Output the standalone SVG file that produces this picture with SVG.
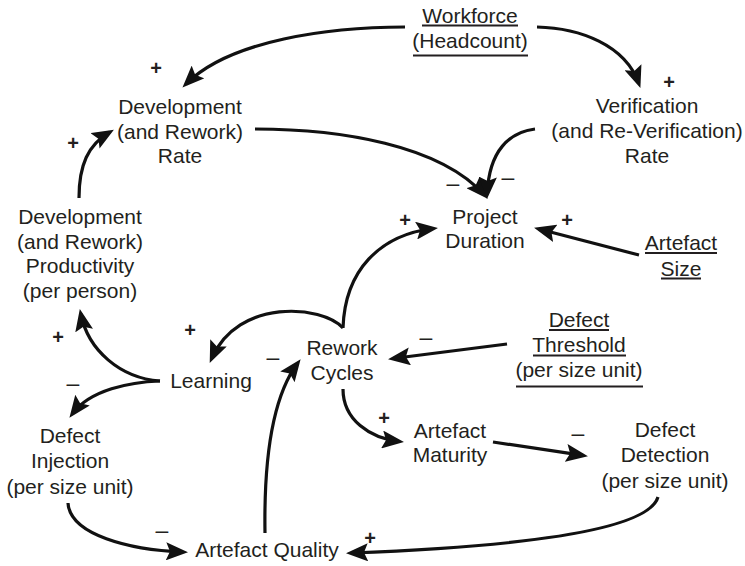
<svg xmlns="http://www.w3.org/2000/svg" width="745" height="566" viewBox="0 0 745 566">
<style>
.t{font-family:"Liberation Sans",Arial,sans-serif;font-size:21px;fill:#231f20;text-anchor:middle}
.s{font-family:"Liberation Sans",Arial,sans-serif;font-size:20px;font-weight:bold;fill:#231f20;text-anchor:middle;dominant-baseline:central}
.m{font-family:"Liberation Sans",Arial,sans-serif;font-size:23px;fill:#231f20;text-anchor:middle;dominant-baseline:central}
.u{stroke:#231f20;stroke-width:2}
.c{fill:none;stroke:#111;stroke-width:3.2;marker-end:url(#ah)}
</style>
<defs>
<marker id="ah" markerUnits="userSpaceOnUse" markerWidth="23" markerHeight="18" refX="17" refY="9" orient="auto" viewBox="0 0 23 18">
<path d="M0,0 L22,9 L0,18 L4,9 z" fill="#111"/>
</marker>
</defs>
<rect width="745" height="566" fill="#fff"/>
<g id="connectors">
<path class="c" d="M405,27 C330,27 230,40 186,84"/>
<path class="c" d="M537,27 C580,28 625,45 638.7,83.2"/>
<path class="c" d="M255,129 C340,129 440,145 484.3,195"/>
<path class="c" d="M535,129 C510,132 489,150 487.2,194"/>
<path class="c" d="M343,328 C345,270 380,235 433,228.5"/>
<path class="c" d="M343,328 C322,305 238,298 211.7,358.4"/>
<path class="c" d="M639,255 L538.9,229"/>
<path class="c" d="M507,344 L393,358.5"/>
<path class="c" d="M79,198 C79,165 88,145 109.6,132.2"/>
<path class="c" d="M160,381 C120,378 88,350 80.8,313.9"/>
<path class="c" d="M160,381 C130,382 90,390 72.4,413.8"/>
<path class="c" d="M343,389 C343,420 370,438 399,441.5"/>
<path class="c" d="M493,442 L583,455.4"/>
<path class="c" d="M658,497 C650,525 560,545 351,553"/>
<path class="c" d="M68,503 C70,535 130,550 183,552"/>
<path class="c" d="M265,533 C264,470 270,400 297.6,363.2"/>
</g>
<g id="signs">
<text class="s" x="156" y="68">+</text>
<text class="s" x="669" y="82">+</text>
<text class="m" x="453" y="183">–</text>
<text class="m" x="508" y="177">–</text>
<text class="s" x="73" y="143">+</text>
<text class="s" x="405" y="220">+</text>
<text class="s" x="567" y="220">+</text>
<text class="s" x="190" y="330">+</text>
<text class="s" x="58" y="337">+</text>
<text class="m" x="426" y="337">–</text>
<text class="m" x="273" y="357">–</text>
<text class="m" x="73" y="383">–</text>
<text class="s" x="384" y="418">+</text>
<text class="m" x="578" y="433">–</text>
<text class="m" x="162" y="530">–</text>
<text class="s" x="370" y="538">+</text>
</g>
<g id="workforce">
<text class="t" x="470" y="23">Workforce</text>
<text class="t" x="470" y="48">(Headcount)</text>
<line class="u" x1="422" y1="25.5" x2="518" y2="25.5"/>
<line class="u" x1="413" y1="55.5" x2="528" y2="55.5"/>
</g>
<g id="dev-rate">
<text class="t" x="180" y="114">Development</text>
<text class="t" x="180" y="138.5">(and Rework)</text>
<text class="t" x="180" y="163">Rate</text>
</g>
<g id="ver-rate">
<text class="t" x="647" y="113">Verification</text>
<text class="t" x="647" y="138">(and Re-Verification)</text>
<text class="t" x="647" y="163">Rate</text>
</g>
<g id="project-duration">
<text class="t" x="485" y="224">Project</text>
<text class="t" x="485" y="248">Duration</text>
</g>
<g id="artefact-size">
<text class="t" x="681" y="250">Artefact</text>
<text class="t" x="681" y="276">Size</text>
<line class="u" x1="645" y1="253" x2="717" y2="253"/>
<line class="u" x1="661" y1="278.5" x2="701" y2="278.5"/>
</g>
<g id="dev-productivity">
<text class="t" x="80" y="224">Development</text>
<text class="t" x="80" y="248.5">(and Rework)</text>
<text class="t" x="80" y="273">Productivity</text>
<text class="t" x="80" y="297.5">(per person)</text>
</g>
<g id="defect-threshold">
<text class="t" x="579" y="327">Defect</text>
<text class="t" x="579" y="352">Threshold</text>
<text class="t" x="579" y="377">(per size unit)</text>
<line class="u" x1="549" y1="330" x2="609" y2="330"/>
<line class="u" x1="533" y1="355.5" x2="626" y2="355.5"/>
<line class="u" x1="516" y1="386.5" x2="643" y2="386.5"/>
</g>
<g id="rework-cycles">
<text class="t" x="342" y="355">Rework</text>
<text class="t" x="342" y="380">Cycles</text>
</g>
<g id="learning">
<text class="t" x="211" y="388">Learning</text>
</g>
<g id="defect-injection">
<text class="t" x="70" y="443">Defect</text>
<text class="t" x="70" y="468">Injection</text>
<text class="t" x="70" y="494">(per size unit)</text>
</g>
<g id="artefact-maturity">
<text class="t" x="450" y="438">Artefact</text>
<text class="t" x="450" y="462">Maturity</text>
</g>
<g id="defect-detection">
<text class="t" x="665" y="437">Defect</text>
<text class="t" x="665" y="462">Detection</text>
<text class="t" x="665" y="488">(per size unit)</text>
</g>
<g id="artefact-quality">
<text class="t" x="267" y="557">Artefact Quality</text>
</g>
</svg>
